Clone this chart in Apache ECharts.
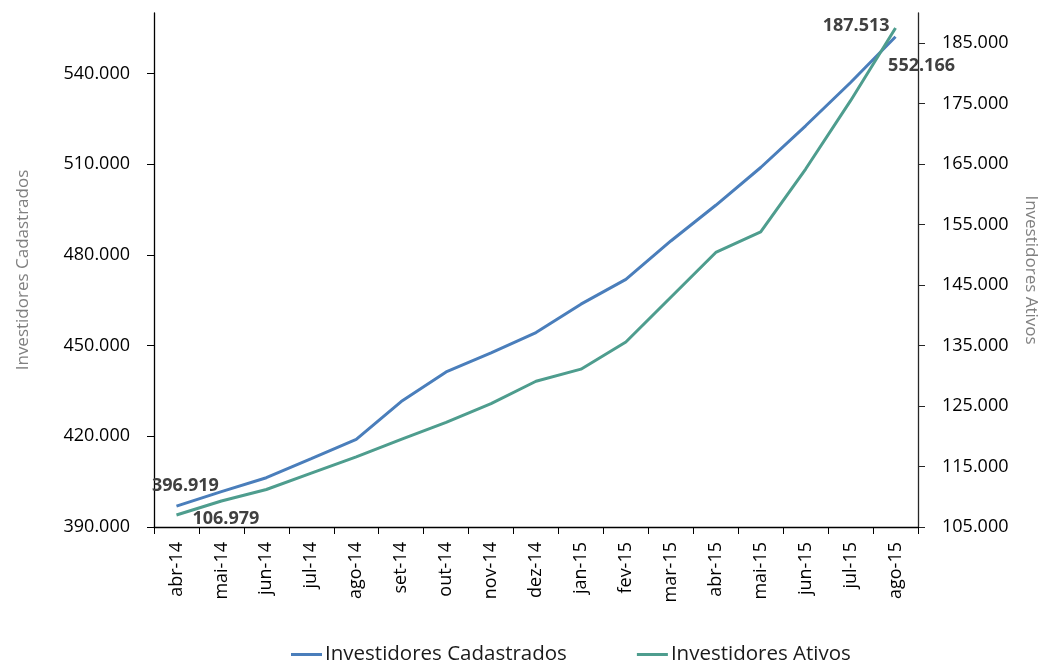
<!DOCTYPE html>
<html>
<head>
<meta charset="utf-8">
<script src="https://cdn.jsdelivr.net/npm/echarts@6/dist/echarts.min.js"></script>
<style>
html,body{margin:0;padding:0;background:#fff;overflow:hidden;}
#chart{width:1041px;height:662px;}
</style>
</head>
<body>
<div id="chart"></div>
<script>
var categories = ['abr-14','mai-14','jun-14','jul-14','ago-14','set-14','out-14','nov-14','dez-14','jan-15','fev-15','mar-15','abr-15','mai-15','jun-15','jul-15','ago-15'];
var cadastrados = [396919, 401700, 406300, 412600, 419000, 431500, 441300, 447600, 454300, 463700, 471900, 484600, 496400, 508900, 522700, 537000, 552166];
var ativos = [106979, 109300, 111200, 113900, 116600, 119500, 122300, 125400, 129100, 131100, 135600, 143000, 150400, 153800, 164200, 175500, 187513];
var leftTicks = [390000, 420000, 450000, 480000, 510000, 540000];
var rightTicks = [105000, 115000, 125000, 135000, 145000, 155000, 165000, 175000, 185000];

function fmt(v){ return String(Math.round(v)).replace(/\B(?=(\d{3})+(?!\d))/g, '.'); }
var FONT = 'Open Sans';
var labelBase = {show:true, fontFamily:FONT, fontSize:18, fontWeight:'bold', color:'#404040', formatter:function(p){return fmt(p.value);}};

var cadData = cadastrados.map(function(v,i){
  var d = {value:v};
  if(i===0) d.label = Object.assign({}, labelBase, {position:'top', offset:[9,-6]});
  if(i===cadastrados.length-1) d.label = Object.assign({}, labelBase, {position:'bottom', offset:[26,15]});
  return d;
});
var atvData = ativos.map(function(v,i){
  var d = {value:v};
  if(i===0) d.label = Object.assign({}, labelBase, {position:'right', distance:16, offset:[0,4]});
  if(i===ativos.length-1) d.label = Object.assign({}, labelBase, {position:'left', distance:6, offset:[0,-2]});
  return d;
});

var chart = echarts.init(document.getElementById('chart'));
chart.setOption({
  animation:false,
  textStyle:{fontFamily:FONT},
  grid:{left:154, right:123, top:13, bottom:135, containLabel:false, outerBoundsMode:'none'},
  legend:{
    data:['Investidores Cadastrados','Investidores Ativos'],
    left:291, top:644, padding:0, icon:'rect', itemWidth:31, itemHeight:3, itemGap:70,
    textStyle:{fontFamily:FONT, fontSize:20.5, color:'#1a1a1a', padding:[0,0,0,-2]}
  },
  xAxis:{
    type:'category', data:categories, boundaryGap:true,
    axisLine:{lineStyle:{color:'#000', width:1.3}},
    axisTick:{show:true, length:7, lineStyle:{color:'#000'}},
    axisLabel:{rotate:90, margin:15, fontFamily:FONT, fontSize:18, color:'#000', interval:0}
  },
  yAxis:[{
    type:'value', position:'left', min:390000, max:560000,
    name:'Investidores Cadastrados', nameLocation:'middle', nameRotate:90, nameGap:122,
    nameTextStyle:{fontFamily:FONT, fontSize:17, color:'#808080'},
    axisLine:{show:true, lineStyle:{color:'#000', width:1.3}},
    axisTick:{show:true, length:7, customValues:leftTicks, lineStyle:{color:'#000'}},
    axisLabel:{customValues:leftTicks, margin:24, fontFamily:FONT, fontSize:18, color:'#000', formatter:fmt},
    splitLine:{show:false}
  },{
    type:'value', position:'right', min:105000, max:190000,
    name:'Investidores Ativos', nameLocation:'middle', nameRotate:-90, nameGap:104,
    nameTextStyle:{fontFamily:FONT, fontSize:17, color:'#808080'},
    axisLine:{show:true, lineStyle:{color:'#262626', width:1.3}},
    axisTick:{show:true, length:7, customValues:rightTicks, lineStyle:{color:'#262626'}},
    axisLabel:{customValues:rightTicks, margin:24, fontFamily:FONT, fontSize:18, color:'#000', formatter:fmt},
    splitLine:{show:false}
  }],
  series:[{
    name:'Investidores Cadastrados', type:'line', yAxisIndex:0, data:cadData,
    showSymbol:true, symbol:'circle', symbolSize:0.01, lineStyle:{color:'#4a7ebb', width:3}, itemStyle:{color:'#4a7ebb'}
  },{
    name:'Investidores Ativos', type:'line', yAxisIndex:1, data:atvData,
    showSymbol:true, symbol:'circle', symbolSize:0.01, lineStyle:{color:'#4e9d8e', width:3}, itemStyle:{color:'#4e9d8e'}
  }]
});
</script>
</body>
</html>
